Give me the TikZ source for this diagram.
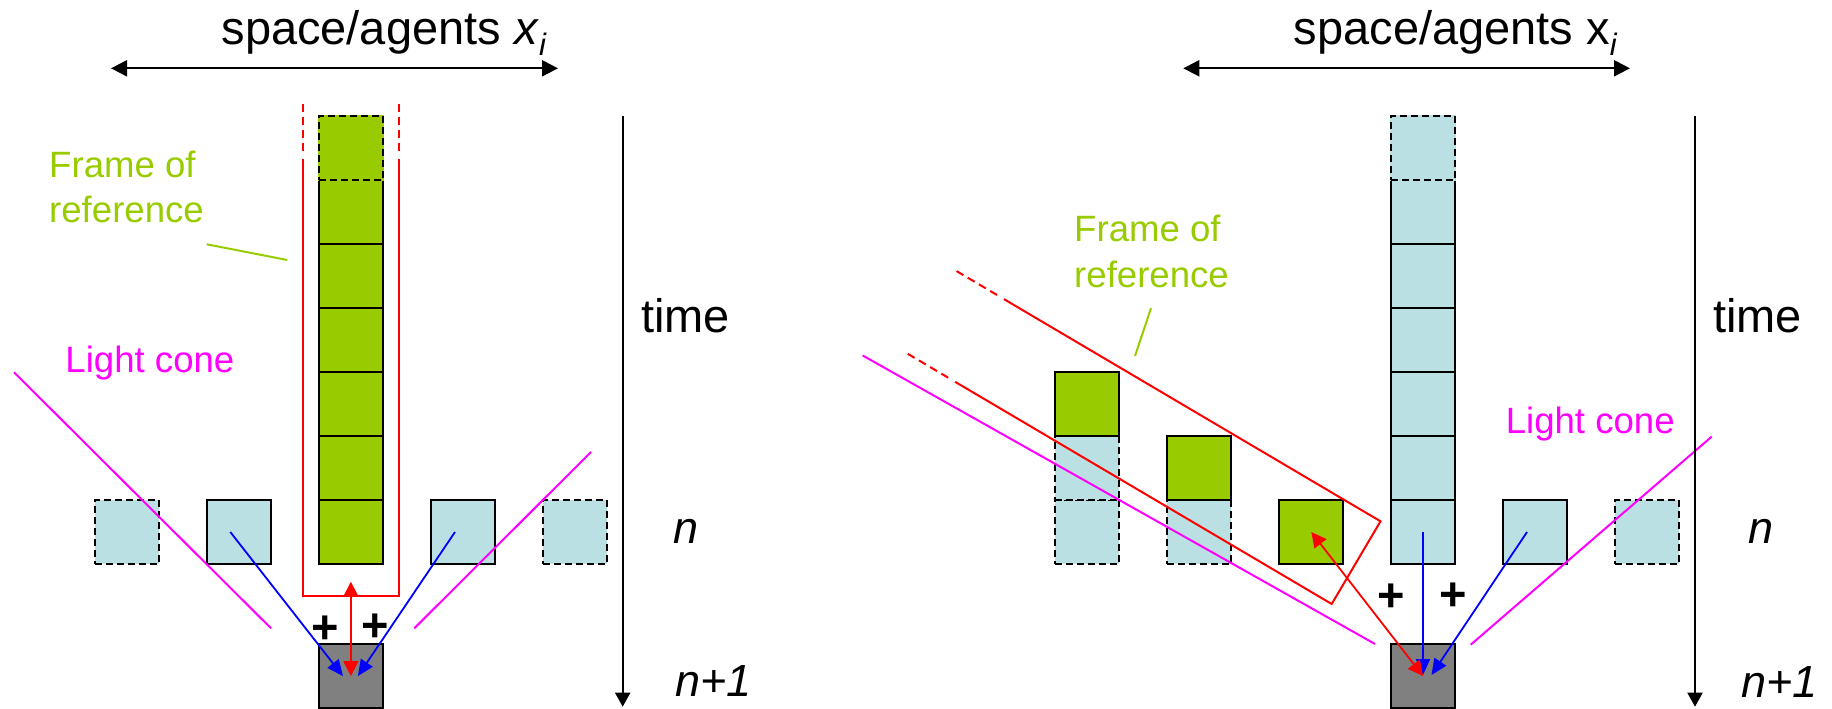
\documentclass[tikz,border=0pt]{standalone}
\usepackage{fontspec}
\setmainfont{Liberation Sans}
\usetikzlibrary{arrows.meta}
\definecolor{fgreen}{HTML}{99CC00}
\definecolor{lblue}{HTML}{BBE0E3}
\definecolor{cgray}{HTML}{808080}
\definecolor{cmag}{HTML}{FF00FF}
\definecolor{cred}{HTML}{FF0000}
\definecolor{cblue}{HTML}{0000FF}
\begin{document}
\begin{tikzpicture}[x=1bp, y=-1bp, line join=miter,
  cell/.style={draw=black, line width=2bp, minimum width=64bp, minimum height=64bp, inner sep=0pt, outer sep=0pt},
  gcell/.style={cell, fill=fgreen},
  bcell/.style={cell, fill=lblue},
  dcell/.style={bcell, dash pattern=on 7bp off 4bp},
  dgtop/.style={gcell, preaction={draw=fgreen, solid, line width=2bp}, dash pattern=on 7bp off 4bp},
  dbtop/.style={bcell, preaction={draw=lblue, solid, line width=2bp}, dash pattern=on 7bp off 4bp},
  gycell/.style={cell, fill=cgray},
  bluearrow/.style={draw=cblue, line width=1.8bp, -{Triangle[length=16bp,width=14bp]}},
  redarrow/.style={draw=cred, line width=1.8bp, {Triangle[length=15bp,width=15bp]}-{Triangle[length=15bp,width=15bp]}},
  axisarrow/.style={draw=black, line width=2bp, {Triangle[length=16bp,width=16bp]}-{Triangle[length=16bp,width=16bp]}},
  timeaxis/.style={draw=black, line width=2bp, -{Triangle[length=14bp,width=15bp]}},
  cone/.style={draw=cmag, line width=2bp},
  rframe/.style={draw=cred, line width=2bp},
  rdash/.style={rframe, dash pattern=on 8bp off 5bp},
  leader/.style={draw=fgreen, line width=2bp},
  bigtext/.style={font=\fontsize{47bp}{56bp}\selectfont, inner sep=0pt, anchor=base west},
  ntext/.style={font=\fontsize{45bp}{54bp}\selectfont\itshape, inner sep=0pt, anchor=base west},
  smalltext/.style={font=\fontsize{36.6bp}{45bp}\selectfont, inner sep=0pt, anchor=base west},
  plustext/.style={font=\fontsize{47bp}{56bp}\selectfont\bfseries, inner sep=0pt, anchor=base}
]
\useasboundingbox (0,0) rectangle (1832,709);

% ---------------- left panel ----------------
\node[dcell] (L1) at (126.7,532) {};
\node[bcell] (L2) at (238.8,532) {};
\node[bcell] (L4) at (463,532) {};
\node[dcell] (L5) at (575.1,532) {};
\node[gcell] (C0) at (350.9,532) {};
\node[gcell] (C1) at (350.9,468) {};
\node[gcell] (C2) at (350.9,404) {};
\node[gcell] (C3) at (350.9,340) {};
\node[gcell] (C4) at (350.9,276) {};
\node[gcell] (C5) at (350.9,212) {};
\node[dgtop] (C6) at (350.9,148) {};
\node[gycell] (GL) at (350.9,676) {};

\draw[rframe] (302.7,159) -- (302.7,596.3) -- (398.7,596.3) -- (398.7,159);
\draw[rdash] (302.7,151) -- (302.7,101.7);
\draw[rdash] (398.7,151) -- (398.7,101.7);

\draw[cone] (14,372.3) -- (271,628.3);
\draw[cone] (414.3,628.3) -- (591,452);

\draw[bluearrow] ([xshift=-8.5bp]L2.center) -- ([xshift=-8bp]GL.center);
\draw[bluearrow] ([xshift=-8bp]L4.center) -- ([xshift=7bp]GL.center);
\draw[redarrow] ([yshift=62.3bp]GL.north) -- (GL.center);

\node[plustext] (pL1) at (325,643.5) {+};
\node[plustext] (pL2) at (375.7,641) {+};

\coordinate (AL1) at (111,68.3);
\coordinate (AL2) at (558,68.3);
\draw[axisarrow] (AL1) -- (AL2);
\node[bigtext] (titleL) at (221.3,45) {space/agents \textit{x}\raisebox{-11bp}{\fontsize{31bp}{31bp}\selectfont\textit{i}}};

\coordinate (TL1) at (622.7,116);
\coordinate (TL2) at (622.7,706.7);
\draw[timeaxis] (TL1) -- (TL2);
\node[bigtext] (timeL) at (641,332.3) {time};
\node[ntext] (nL) at (673.5,543.3) {n};
\node[ntext] (n1L) at (675,696.7) {n+1};

\node[smalltext, text=cmag] (lcL) at (65.3,372.3) {Light cone};
\node[smalltext, text=fgreen] (forL1) at (49,177.7) {Frame of};
\node[smalltext, text=fgreen] (forL2) at (49,222.7) {reference};
\coordinate (ldL1) at (206.7,244.3);
\coordinate (ldL2) at (287.3,260);
\draw[leader] (ldL1) -- (ldL2);

% ---------------- right panel ----------------
\node[dcell] (RA0) at (1087,532) {};
\node[dcell] (RA1) at (1087,468) {};
\node[gcell] (RA2) at (1087,404) {};
\node[dcell] (RB0) at (1199,532) {};
\node[gcell] (RB1) at (1199,468) {};
\node[gcell] (RC0) at (1311.3,532) {};
\node[bcell] (RD0) at (1423,532) {};
\node[bcell] (RD1) at (1423,468) {};
\node[bcell] (RD2) at (1423,404) {};
\node[bcell] (RD3) at (1423,340) {};
\node[bcell] (RD4) at (1423,276) {};
\node[bcell] (RD5) at (1423,212) {};
\node[dbtop] (RD6) at (1423,148) {};
\node[bcell] (RE0) at (1535,532) {};
\node[dcell] (RF0) at (1647,532) {};
\node[gycell] (GR) at (1423,676) {};

\draw[rframe] (955.1,381.8) -- (1331.7,604) -- (1380.5,521.3) -- (1003.9,299.1);
\draw[rdash] (948.2,377.7) -- (905.7,352.6);
\draw[rdash] (997.0,295.0) -- (954.5,269.9);

\draw[cone] (862.7,355.5) -- (1375,644);
\draw[cone] (1470.7,644.7) -- (1711.7,436.6);

\draw[bluearrow] (RD0.center) -- ([yshift=1bp]GR.center);
\draw[bluearrow] ([xshift=-8bp]RE0.center) -- ([xshift=8.5bp,yshift=1bp]GR.center);
\draw[redarrow] (RC0.center) -- (GR.center);

\node[plustext] (pR1) at (1391.7,611) {+};
\node[plustext] (pR2) at (1453.3,610) {+};

\coordinate (AR1) at (1183.3,68.3);
\coordinate (AR2) at (1630,68.3);
\draw[axisarrow] (AR1) -- (AR2);
\node[bigtext] (titleR) at (1293.6,45) {space/agents x\raisebox{-11bp}{\fontsize{31bp}{31bp}\selectfont\textit{i}}};

\coordinate (TR1) at (1695,116);
\coordinate (TR2) at (1695,706.7);
\draw[timeaxis] (TR1) -- (TR2);
\node[bigtext] (timeR) at (1713,332.3) {time};
\node[ntext] (nR) at (1748,543) {n};
\node[ntext] (n1R) at (1741,697) {n+1};

\node[smalltext, text=cmag] (lcR) at (1505.6,433.5) {Light cone};
\node[smalltext, text=fgreen] (forR1) at (1074,241.7) {Frame of};
\node[smalltext, text=fgreen] (forR2) at (1074,287.3) {reference};
\coordinate (ldR1) at (1151,308.2);
\coordinate (ldR2) at (1135,356);
\draw[leader] (ldR1) -- (ldR2);
\end{tikzpicture}
\end{document}
